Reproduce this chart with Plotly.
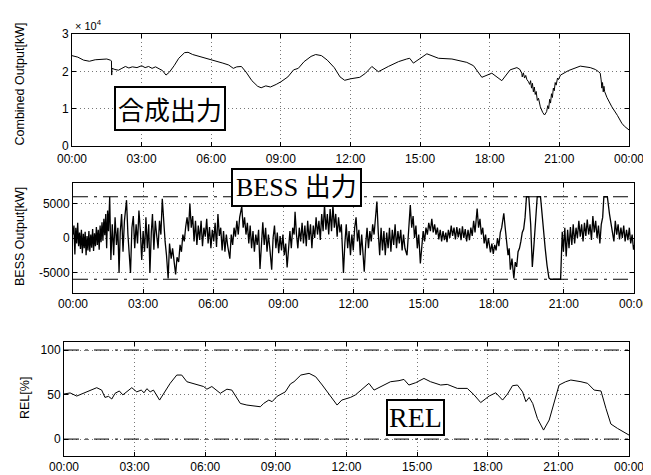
import plotly.graph_objects as go

# ---------------- data ----------------
tick_hours = [0, 3, 6, 9, 12, 15, 18, 21, 24]
tick_labels = ["00:00", "03:00", "06:00", "09:00", "12:00", "15:00", "18:00", "21:00", "00:00"]

comb_t = [0.00, 0.25, 0.50, 0.75, 1.00, 1.25, 1.50, 1.65, 1.70, 1.71, 1.72, 1.85, 2.00, 2.15, 2.30, 2.45,
          2.60, 2.80, 3.00, 3.15, 3.30, 3.45, 3.60, 3.75, 3.90, 4.05, 4.20, 4.40, 4.60, 4.85, 5.00, 5.20,
          5.50, 5.80, 6.00, 6.25, 6.50, 6.75, 6.95, 7.10, 7.30, 7.50, 7.75, 8.00, 8.15, 8.35, 8.55, 8.80,
          9.00, 9.30, 9.55, 9.75, 10.00, 10.30, 10.50, 10.75, 11.00, 11.30, 11.55, 11.75, 12.00, 12.40,
          12.65, 12.92, 13.20, 13.63, 14.07, 14.42, 14.55, 14.71, 15.00, 15.29, 15.79, 16.37, 17.01, 17.30,
          17.66, 18.09, 18.52, 18.88, 19.17, 19.30, 19.38, 19.40, 19.45, 19.50, 19.55, 19.60, 19.67, 19.72,
          19.76, 19.80, 19.84, 19.88, 19.92, 19.96, 20.00, 20.05, 20.10, 20.18, 20.28, 20.36, 20.45, 20.50,
          20.54, 20.58, 20.62, 20.66, 20.70, 20.74, 20.78, 20.82, 20.86, 20.92, 20.96, 21.05, 21.39, 21.90,
          22.33, 22.55, 22.69, 22.76, 22.80, 22.83, 22.86, 22.89, 22.92, 22.95, 23.05, 23.26, 23.50, 23.69,
          23.80, 23.88, 24.00]
comb_v = [24200, 23800, 23000, 22700, 23100, 23300, 23300, 23000, 22800, 19000, 20800, 20500, 20300, 20800,
          21300, 20900, 21200, 21000, 21500, 21000, 21300, 20800, 21200, 20700, 20200, 19000, 19800, 21500,
          23500, 25000, 25100, 24500, 24000, 23400, 23000, 22600, 22200, 21700, 20800, 21200, 21300, 19800,
          17500, 16000, 15600, 16100, 15800, 16500, 17200, 18500, 20400, 20800, 22600, 24000, 24500, 24200,
          23000, 21000, 18500, 17600, 18000, 18400, 19500, 21300, 19900, 21300, 22600, 23300, 23500, 22200,
          23500, 24700, 23500, 23300, 22400, 21500, 18400, 19500, 17500, 20400, 21000, 20500, 19500, 18500,
          19600, 18200, 18900, 17800, 17200, 16500, 17500, 15500, 16800, 14500, 15800, 13800, 14600, 12200,
          12800, 10500, 9000, 8300, 9200, 10800, 10000, 12500, 11500, 14000, 13000, 15500, 14800, 17000,
          16300, 18200, 17800, 19000, 20200, 21400, 21000, 20500, 19900, 19500, 17700, 15500, 17000, 14500,
          16000, 14600, 13000, 10500, 8200, 6100, 5300, 4900, 4300]

bess_t = [0.00, 0.04, 0.08, 0.12, 0.16, 0.20, 0.24, 0.28, 0.32, 0.36, 0.40, 0.44, 0.48, 0.52, 0.56, 0.60,
          0.64, 0.68, 0.72, 0.76, 0.80, 0.84, 0.88, 0.92, 0.96, 1.00, 1.04, 1.08, 1.12, 1.16, 1.20, 1.24,
          1.28, 1.32, 1.36, 1.40, 1.44, 1.48, 1.52, 1.57, 1.62, 1.68, 1.74, 1.80, 1.86, 1.92, 1.97, 2.02,
          2.08, 2.14, 2.20, 2.29, 2.35, 2.40, 2.46, 2.52, 2.58, 2.64, 2.70, 2.76, 2.82, 2.88, 2.94, 3.00,
          3.06, 3.12, 3.18, 3.24, 3.29, 3.35, 3.40, 3.46, 3.52, 3.58, 3.64, 3.70, 3.76, 3.82, 3.88, 3.94,
          4.00, 4.07, 4.13, 4.20, 4.26, 4.32, 4.39, 4.45, 4.52, 4.58, 4.64, 4.70, 4.76, 4.82, 4.88, 4.94,
          5.00, 5.06, 5.12, 5.18, 5.24, 5.30, 5.36, 5.42, 5.48, 5.54, 5.60, 5.66, 5.72, 5.78, 5.84, 5.90,
          5.96, 6.02, 6.08, 6.14, 6.20, 6.26, 6.32, 6.38, 6.44, 6.50, 6.56, 6.62, 6.71, 6.77, 6.83, 6.89,
          6.95, 7.01, 7.07, 7.13, 7.22, 7.28, 7.34, 7.40, 7.46, 7.52, 7.58, 7.64, 7.70, 7.76, 7.82, 7.88,
          7.94, 8.00, 8.06, 8.12, 8.18, 8.24, 8.30, 8.36, 8.42, 8.50, 8.56, 8.62, 8.68, 8.74, 8.80, 8.86,
          8.92, 8.98, 9.04, 9.10, 9.16, 9.22, 9.28, 9.34, 9.40, 9.46, 9.50, 9.56, 9.62, 9.68, 9.74, 9.80,
          9.86, 9.92, 9.98, 10.04, 10.10, 10.16, 10.22, 10.28, 10.34, 10.40, 10.46, 10.52, 10.58, 10.64,
          10.70, 10.76, 10.82, 10.88, 10.94, 11.00, 11.06, 11.12, 11.18, 11.24, 11.30, 11.36, 11.42, 11.48,
          11.57, 11.63, 11.69, 11.75, 11.81, 11.87, 11.93, 11.99, 12.05, 12.11, 12.17, 12.23, 12.29, 12.35,
          12.40, 12.46, 12.52, 12.58, 12.64, 12.70, 12.76, 12.82, 12.88, 12.94, 13.00, 13.06, 13.12, 13.18,
          13.24, 13.30, 13.36, 13.42, 13.48, 13.54, 13.60, 13.66, 13.72, 13.78, 13.84, 13.90, 13.96, 14.02,
          14.08, 14.14, 14.20, 14.29, 14.36, 14.43, 14.49, 14.55, 14.61, 14.67, 14.73, 14.79, 14.86, 14.92,
          14.98, 15.04, 15.10, 15.16, 15.22, 15.29, 15.35, 15.41, 15.47, 15.53, 15.59, 15.65, 15.71, 15.77,
          15.83, 15.89, 15.95, 16.00, 16.06, 16.12, 16.18, 16.24, 16.30, 16.36, 16.42, 16.48, 16.54, 16.60,
          16.66, 16.72, 16.78, 16.84, 16.90, 16.96, 17.02, 17.08, 17.14, 17.20, 17.29, 17.35, 17.41, 17.47,
          17.53, 17.59, 17.65, 17.71, 17.77, 17.86, 17.92, 17.98, 18.04, 18.10, 18.16, 18.22, 18.28, 18.34,
          18.43, 18.49, 18.55, 18.61, 18.66, 18.71, 18.78, 18.86, 18.92, 18.98, 19.04, 19.10, 19.16, 19.22,
          19.28, 19.34, 19.40, 19.50, 19.58, 19.65, 19.72, 19.80, 19.86, 20.00, 20.06, 20.12, 20.20, 20.28,
          20.36, 20.43, 20.86, 20.93, 20.98, 21.04, 21.10, 21.16, 21.22, 21.28, 21.34, 21.40, 21.46, 21.52,
          21.58, 21.64, 21.70, 21.76, 21.82, 21.88, 21.94, 22.00, 22.06, 22.12, 22.18, 22.24, 22.30, 22.36,
          22.42, 22.48, 22.54, 22.60, 22.66, 22.71, 22.86, 22.95, 23.02, 23.08, 23.14, 23.20, 23.26, 23.32,
          23.38, 23.44, 23.50, 23.56, 23.62, 23.68, 23.74, 23.80, 23.86, 23.92, 23.98, 24.00]
bess_v = [500, 1800, -2400, 1500, -800, 2200, -1200, 800, -1600, 1200, -2200, 600, -1500, 900, -2500, 300,
          -1800, 1000, -2000, 500, -1400, 1300, -1900, 700, -1200, 1600, -1000, 1200, -1700, 1800, -600, 2300,
          -400, 2800, 400, 3500, -1500, 4000, 1000, 6000, -3200, 2000, -2500, 3000, -1000, 1500, -5100, 800,
          3500, -2000, 2500, 5500, 500, -2500, -5100, 1500, 3200, -1500, 2000, -800, 4000, 1200, -3200, 1000,
          -2000, 3000, -1500, 2000, -5100, 800, 3500, -1700, 2500, 400, -1500, 2500, 500, 5700, 2000, -500,
          -2500, -5900, -800, -3000, -1500, -3800, -5300, -2800, -3500, -1000, -2000, 500, -500, 1600, 3000, 1000,
          5000, 1500, 3200, -500, 2500, -1000, 1800, -300, 2500, -1200, 1500, 200, 2800, -800, 1600, -1500,
          1200, -500, 2200, -1300, 3500, 300, 1500, -1800, 1000, -2000, 500, -1200, -3000, 500, -1000, 1500,
          200, 2500, 500, 3000, 4600, 1500, 3000, 500, 2200, -800, 1800, -1500, 1000, -2000, 500, -1000,
          1200, -4500, -500, 2300, -1000, 1500, -2000, 500, -1500, -4600, 0, 1800, -1500, 800, -2200, 300,
          -1800, 500, -2500, -800, -4300, -1000, 1000, -1500, 1500, 500, 3800, 500, -1500, 1500, -500, 2200,
          -800, 1800, -1200, 2500, -300, 2000, -1500, 1800, 0, 3000, 500, 2500, -300, 3500,
          1000, 4800, 1200, 3500, 500, 4200, 1000, 4800, 1500, 3500, 200, 3000, 800, 2000,
          -5100, -800, 2000, -1500, 1000, -2500, 500, -1800, 1500, 3000, -500, 1200, -2500, 500,
          -1800, -4900, -1000, 1500, -1500, 1000, -500, 2000, 500, 2800, 5300, 800, -2500, 1500,
          -1800, 1000, -2500, 800, -1500, 1500, -2000, 1200, -1000, 2000, -1500, 1000, -800, 1200,
          -1800, 500, -1500, -2500, 2000, 4800, 1500, 3200, 0, 1800, -1500, 500, -3700, -1000,
          1000, -500, 1500, 500, 2200, 1000, 2800, 800, 2000, 500, 1500, -200, 1200, -500,
          1000, -300, 800, -600, 1200, 0, 1800, 300, 1500, -200, 1600, 100, 1400, -300,
          1700, 0, 1300, -500, 1200, -300, 1500, 300, 2500, 800, 4300, 1500, 2800, 500,
          1500, -800, 500, -1500, 0, -2100, -800, -2300, -1000, -1800, 0, -1200, 800, 1500,
          3600, 1500, -500, -2500, -1500, -4600, -3000, -5900, -3500, -4200, -2000, -1500, -500, 800,
          1300, 3000, 6000, 6000, 2000, -4200, -1000, 4000, 6000, 6000, 3500, 1000, -1500, -4000,
          -5800, -6000, -6000, 900, -2000, 1500, -2700, 1200, -1500, 1600, -1000, 2000, -800, 1500,
          0, 2500, 200, 2000, -500, 2200, 300, 2700, 500, 2000, -300, 3200, 800, 2500,
          0, 1800, -800, 2000, 3000, 6000, 6000, 3500, 2000, 800, -500, 2500, 500, 2000,
          -200, 1500, 0, 1800, -500, 1200, -300, 1500, -800, 500, -1700, -1000]
bess_limits = [-6000, 6000]

rel_t = [0.00, 0.26, 0.54, 0.96, 1.39, 1.60, 1.74, 1.89, 2.03, 2.17, 2.35, 2.50, 2.64, 2.88, 3.09, 3.28,
         3.40, 3.52, 3.66, 3.80, 4.06, 4.23, 4.51, 4.79, 5.00, 5.22, 5.65, 5.93, 6.07, 6.28, 6.64, 6.92,
         7.13, 7.49, 7.77, 8.34, 8.48, 8.70, 8.84, 9.05, 9.40, 9.62, 9.77, 10.06, 10.41, 10.69, 10.97,
         11.32, 11.60, 11.80, 12.17, 12.38, 12.60, 12.95, 13.17, 13.52, 13.87, 14.23, 14.44, 14.65, 14.94,
         15.29, 15.57, 16.00, 16.28, 16.71, 17.13, 17.42, 17.70, 18.06, 18.34, 18.63, 18.84, 19.05, 19.26,
         19.48, 19.62, 19.76, 19.91, 20.11, 20.37, 20.61, 20.82, 21.03, 21.31, 21.53, 21.96, 22.24, 22.52,
         22.81, 23.02, 23.23, 23.51, 23.80, 24.00]
rel_v = [50.6, 51.8, 48.3, 53.0, 57.7, 55.0, 46.8, 48.0, 45.0, 51.4, 54.0, 49.6, 53.0, 57.7, 53.0, 55.0,
         52.0, 56.6, 53.0, 55.0, 43.8, 50.6, 62.6, 71.9, 71.9, 64.4, 60.7, 59.0, 56.0, 59.0, 51.4, 56.0,
         55.0, 40.0, 38.2, 36.3, 40.0, 43.8, 42.0, 48.0, 53.0, 62.0, 64.4, 71.9, 73.8, 70.0, 60.7,
         47.6, 38.2, 43.8, 46.8, 49.6, 55.0, 62.6, 55.0, 59.6, 64.4, 65.6, 67.0, 60.7, 63.3,
         68.1, 64.4, 60.7, 61.4, 56.9, 56.9, 49.6, 41.0, 48.3, 52.0, 43.8, 50.6, 59.9, 60.7,
         53.0, 42.0, 46.8, 40.0, 23.2, 10.1, 21.4, 40.0, 60.7, 64.4, 66.3, 64.4, 62.6, 55.0,
         54.0, 34.5, 16.9, 12.0, 7.1, 4.5]
rel_limits = [0, 100]

# the page body has a default 8px margin, so the figure is offset by it
OFF = 8
W, H = 651 - OFF, 475 - OFF


def px(x):
    return (x - OFF) / W


def py(y):
    return 1 - (y - OFF) / H


fig = go.Figure()

fig.add_trace(go.Scatter(x=comb_t, y=comb_v, mode="lines", line=dict(color="black", width=1),
                         xaxis="x", yaxis="y", showlegend=False))
fig.add_trace(go.Scatter(x=bess_t, y=bess_v, mode="lines", line=dict(color="black", width=1.3),
                         xaxis="x2", yaxis="y2", showlegend=False))
for lim in bess_limits:
    fig.add_trace(go.Scatter(x=[0, 24], y=[lim, lim], mode="lines",
                             line=dict(color="black", width=1, dash="longdashdot"),
                             xaxis="x2", yaxis="y2", showlegend=False))
fig.add_trace(go.Scatter(x=rel_t, y=rel_v, mode="lines", line=dict(color="black", width=1),
                         xaxis="x3", yaxis="y3", showlegend=False))
for lim in rel_limits:
    fig.add_trace(go.Scatter(x=[0, 24], y=[lim, lim], mode="lines",
                             line=dict(color="black", width=1, dash="longdashdot"),
                             xaxis="x3", yaxis="y3", showlegend=False))

tickfont = dict(family="Liberation Sans, Arial, sans-serif", size=12, color="black")
common = dict(showline=True, linecolor="black", linewidth=1, mirror="ticks", ticks="inside",
              ticklen=4, tickcolor="black", showgrid=True, gridcolor="#777777", griddash="1px,3px",
              gridwidth=1, zeroline=False, tickfont=tickfont, automargin=False)

xcommon = dict(common, range=[0, 24], tickvals=tick_hours, ticktext=tick_labels)

fig.update_layout(
    width=W, height=H,
    margin=dict(l=0, r=0, t=0, b=0),
    paper_bgcolor="white", plot_bgcolor="white",
    xaxis=dict(xcommon, domain=[px(72), px(629)], anchor="y", ticklabelstandoff=2),
    yaxis=dict(common, domain=[py(146), py(34)], anchor="x", range=[0, 30000],
               tickvals=[0, 10000, 20000, 30000], ticktext=["0", "1", "2", "3"]),
    xaxis2=dict(xcommon, domain=[px(73), px(634)], anchor="y2"),
    yaxis2=dict(common, domain=[py(293), py(183)], anchor="x2", range=[-8000, 8000],
                tickvals=[-5000, 0, 5000], ticktext=["-5000", "0", "5000"]),
    xaxis3=dict(xcommon, domain=[px(64), px(629)], anchor="y3"),
    yaxis3=dict(common, domain=[py(456), py(342)], anchor="x3", range=[-19, 109],
                tickvals=[0, 50, 100], ticktext=["0", "50", "100"]),
)

ann = []
titlefont = dict(family="Liberation Sans, Arial, sans-serif", size=12.5, color="black")
ann.append(dict(text="Combined Output[kW]", x=px(19.5), y=py(84), textangle=-90, font=titlefont))
ann.append(dict(text="BESS Output[kW]", x=px(20), y=py(237), textangle=-90, font=titlefont))
ann.append(dict(text="REL[%]", x=px(25), y=py(398), textangle=-90, font=titlefont))
ann.append(dict(text="× 10<sup>4</sup>", x=px(73), y=py(25), xanchor="left",
                font=dict(family="Liberation Sans, Arial, sans-serif", size=11, color="black")))
ann.append(dict(text="合成出力", x=px(170), y=py(108),
                font=dict(family="Noto Sans CJK JP", size=26, color="black"),
                bordercolor="black", borderwidth=2, borderpad=2, bgcolor="white"))
ann.append(dict(text="BESS 出力", x=px(296.5), y=py(187.5),
                font=dict(family="Liberation Serif, Noto Sans CJK JP", size=26, color="black"),
                bordercolor="black", borderwidth=2, borderpad=3, bgcolor="white"))
ann.append(dict(text="REL", x=px(415), y=py(417.5),
                font=dict(family="Liberation Serif, serif", size=28, color="black"),
                bordercolor="black", borderwidth=2, borderpad=1, bgcolor="white"))
for a in ann:
    a.update(xref="paper", yref="paper", showarrow=False)
    a.setdefault("xanchor", "center")
    a.setdefault("yanchor", "middle")
fig.update_layout(annotations=ann)

fig.write_html("out.html")
